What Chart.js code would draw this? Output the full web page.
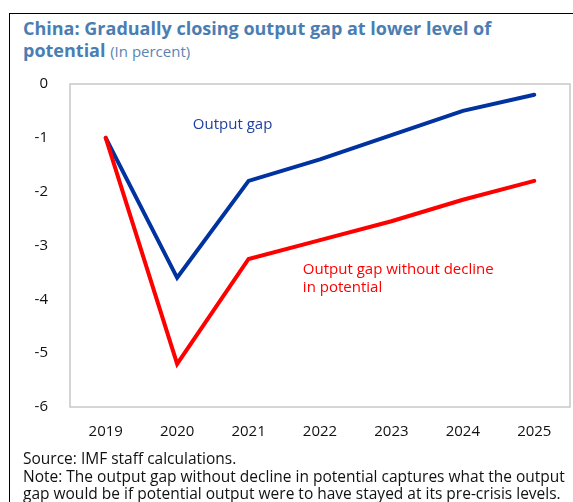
<!DOCTYPE html>
<html lang="en">
<head>
  <meta charset="UTF-8" />
  <title>China: Gradually closing output gap</title>
  <script src="https://cdn.jsdelivr.net/npm/chart.js"></script>
  <style>
    body { margin: 0; background: #fff; font-family: "Open Sans", sans-serif; }
    .wrap { position: relative; width: 573px; height: 502px; overflow: hidden; }
    .frame { position: absolute; left: 9px; top: 13px; width: 600px; height: 520px; border: 1.5px solid #000; }
    .title { position: absolute; left: 23px; top: 17px; font-size: 18px; font-weight: 700; color: #4a7eb3; line-height: 22px; }
    .title span { font-weight: 400; font-size: 15px; color: #5a85b0; }
    .notes { position: absolute; left: 23px; top: 450px; font-size: 15.5px; color: #111; line-height: 17.5px; }
    canvas { position: absolute; left: 0; top: 0; }
  </style>
</head>
<body>
  <div class="wrap">
    <div class="frame"></div>
    <div class="title">China: Gradually closing output gap at lower level of<br>potential <span>(In percent)</span></div>
    <canvas id="gapChart" width="573" height="502"></canvas>
    <div class="notes">Source: IMF staff calculations.<br>Note: The output gap without decline in potential captures what the output<br>gap would be if potential output were to have stayed at its pre-crisis levels.</div>
  </div>

  <script>
    const years = ['2019', '2020', '2021', '2022', '2023', '2024', '2025'];
    const outputGap = [-1.0, -3.6, -1.8, -1.4, -0.95, -0.5, -0.2];
    const gapNoDecline = [-1.0, -5.2, -3.25, -2.9, -2.55, -2.15, -1.8];

    // labels written inside the plot, placed with the scales
    const notesInPlot = [
      { text: ['Output gap'], x: 1.22, y: -0.75, color: '#1f3fa0' },
      { text: ['Output gap without decline', 'in potential'], x: 2.76, y: -3.45, color: '#ff0000' }
    ];

    const inPlotLabels = {
      id: 'inPlotLabels',
      afterDatasetsDraw(chart) {
        const { ctx, chartArea, scales } = chart;
        ctx.save();
        ctx.strokeStyle = '#c8c8c8';
        ctx.lineWidth = 1.5;
        ctx.strokeRect(chartArea.left, chartArea.top, chartArea.right - chartArea.left, chartArea.bottom - chartArea.top);
        ctx.font = '15px "Open Sans"';
        ctx.textBaseline = 'middle';
        notesInPlot.forEach(n => {
          ctx.fillStyle = n.color;
          const px = scales.x.getPixelForValue(n.x);
          const py = scales.y.getPixelForValue(n.y);
          n.text.forEach((t, i) => ctx.fillText(t, px, py + i * 18));
        });
        ctx.restore();
      }
    };

    new Chart(document.getElementById('gapChart'), {
      type: 'line',
      data: {
        labels: years,
        datasets: [
          { label: 'Output gap without decline in potential', data: gapNoDecline, borderColor: '#ff0000', borderWidth: 4 },
          { label: 'Output gap', data: outputGap, borderColor: '#0033a0', borderWidth: 4 }
        ]
      },
      options: {
        responsive: false,
        animation: false,
        layout: { padding: { top: 84, right: 3, bottom: 55, left: 0 } },
        elements: { point: { radius: 0 }, line: { tension: 0, borderCapStyle: 'round', borderJoinStyle: 'miter' } },
        plugins: { legend: { display: false }, tooltip: { enabled: false } },
        scales: {
          x: {
            offset: true,
            grid: { display: false },
            border: { display: false },
            ticks: { color: '#111', font: { family: 'Open Sans', size: 15 }, padding: 8 },
            afterFit: s => { s.height = 40; }
          },
          y: {
            min: -6, max: 0,
            grid: { display: false },
            border: { display: false },
            ticks: { stepSize: 1, color: '#111', font: { family: 'Open Sans', size: 15 }, padding: 14 },
            afterFit: s => { s.width = 70; }
          }
        }
      },
      plugins: [inPlotLabels]
    });
  </script>
</body>
</html>
